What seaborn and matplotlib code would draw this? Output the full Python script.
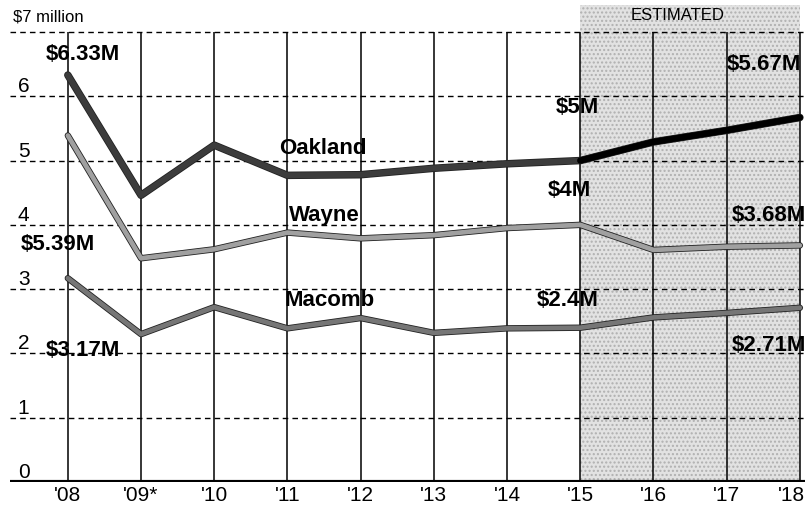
import matplotlib
matplotlib.use('Agg')
import matplotlib.pyplot as plt
import matplotlib.patheffects as pe
import matplotlib.transforms as mtransforms
import seaborn as sns
import pandas as pd

years = ["'08", "'09*", "'10", "'11", "'12", "'13", "'14", "'15", "'16", "'17", "'18"]
oakland = [6.33, 4.46, 5.24, 4.77, 4.78, 4.88, 4.95, 5.0, 5.29, 5.47, 5.67]
wayne = [5.39, 3.48, 3.62, 3.88, 3.79, 3.84, 3.95, 4.0, 3.61, 3.66, 3.68]
macomb = [3.17, 2.30, 2.72, 2.39, 2.55, 2.32, 2.39, 2.4, 2.56, 2.63, 2.71]
first_estimated = 7  # '15

rows = []
for name, vals in [('Oakland', oakland), ('Wayne', wayne), ('Macomb', macomb)]:
    for i, v in enumerate(vals):
        rows.append({'county': name, 'x': i, 'value': v})
df = pd.DataFrame(rows)

sns.set_style('white')
plt.rcParams['font.family'] = ['Liberation Sans', 'DejaVu Sans']
plt.rcParams['text.color'] = 'black'
plt.rcParams['xtick.color'] = 'black'
plt.rcParams['ytick.color'] = 'black'

fig = plt.figure(figsize=(8.08, 5.11), dpi=100)
ax = fig.add_axes([10 / 808, 29 / 511, 795 / 808, 477 / 511])

# estimated band
ax.axvspan(first_estimated, len(years) - 1, color='#e2e2e2', hatch='....',
           ec='#b0b0b0', lw=0, zorder=0)

# grid
for v in range(1, 8):
    ax.axhline(v, color='black', ls=(0, (4, 3)), lw=1, zorder=1)
ax.vlines(range(len(years)), 0, 7, color='black', lw=1.1, zorder=1)
ax.axhline(0, color='black', lw=3, zorder=5)

palette = {'Oakland': '#3c3c3c', 'Wayne': '#a0a0a0', 'Macomb': '#767676'}
widths = {'Oakland': 4.2, 'Wayne': 3.4, 'Macomb': 3.4}
for name in ['Macomb', 'Wayne', 'Oakland']:
    sub = df[df['county'] == name]
    sns.lineplot(data=sub, x='x', y='value', color=palette[name], lw=widths[name],
                 ax=ax, zorder=3, legend=False,
                 path_effects=[pe.Stroke(linewidth=widths[name] + 1.2, foreground='#222222'), pe.Normal()])
est = df[(df['county'] == 'Oakland') & (df['x'] >= first_estimated)]
sns.lineplot(data=est, x='x', y='value', color='black', lw=4.6, ax=ax, zorder=4, legend=False)

ax.set_xlim(-0.79, 10.07)
ax.set_ylim(0, 7.42)
for s in ax.spines.values():
    s.set_visible(False)

ax.set_xticks(range(len(years)))
ax.set_xticklabels(years, fontsize=15)
ax.tick_params(axis='x', length=0, pad=3)
# keep the last label inside the picture
last = ax.get_xticklabels()[-1]
last.set_transform(last.get_transform() + mtransforms.ScaledTranslation(-0.08, 0, fig.dpi_scale_trans))
ax.set_yticks(range(0, 7))
ax.set_yticklabels([str(v) for v in range(0, 7)], fontsize=15)
ax.tick_params(axis='y', length=0, pad=-14)
for t in ax.get_yticklabels():
    t.set_verticalalignment('bottom')
ax.set_xlabel('')
ax.set_ylabel('')

ax.text(-0.75, 7.12, '$7 million', fontsize=12, va='bottom', ha='left')
ax.text(8.33, 7.26, 'ESTIMATED', fontsize=12, va='center', ha='center')

lab = dict(fontsize=16, fontweight='bold', va='center')
ax.text(0.2, 6.65, '$6.33M', ha='center', **lab)
ax.text(-0.13, 3.70, '$5.39M', ha='center', **lab)
ax.text(0.2, 2.05, '$3.17M', ha='center', **lab)
ax.text(3.48, 5.19, 'Oakland', ha='center', **lab)
ax.text(3.5, 4.15, 'Wayne', ha='center', **lab)
ax.text(3.58, 2.83, 'Macomb', ha='center', **lab)
ax.text(7.25, 5.83, '$5M', ha='right', **lab)
ax.text(7.15, 4.54, '$4M', ha='right', **lab)
ax.text(7.25, 2.83, '$2.4M', ha='right', **lab)
ax.text(10.02, 6.49, '$5.67M', ha='right', **lab)
ax.text(10.08, 4.15, '$3.68M', ha='right', **lab)
ax.text(10.08, 2.13, '$2.71M', ha='right', **lab)

fig.savefig('out.png', dpi=100)
plt.close(fig)
